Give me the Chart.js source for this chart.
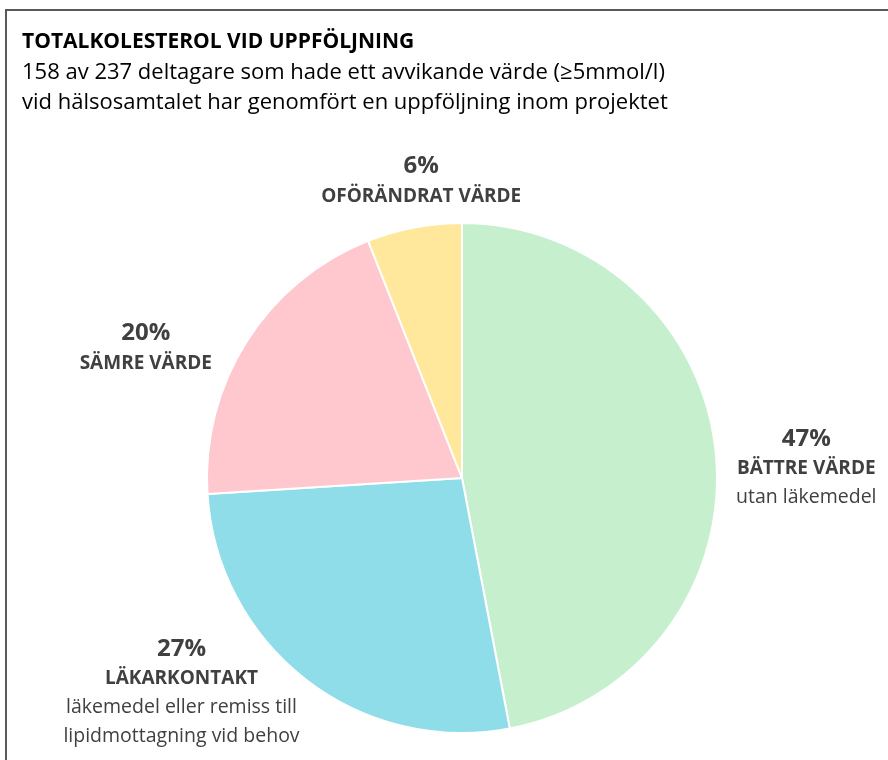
<!DOCTYPE html>
<html><head><meta charset="utf-8">
<script src="https://cdn.jsdelivr.net/npm/chart.js@4/dist/chart.umd.min.js"></script>
<style>
html,body{margin:0;padding:0;background:#fff;}
#wrap{position:relative;width:888px;height:760px;}
#frame{position:absolute;left:5px;top:9px;width:890px;height:800px;border-left:2px solid #595959;border-top:2px solid #595959;}
canvas{position:absolute;left:0;top:0;}
</style></head>
<body><div id="wrap"><div id="frame"></div><canvas id="c" width="888" height="760"></canvas></div>
<script>
const titleText = "TOTALKOLESTEROL VID UPPFÖLJNING";
const subtitleLines = ["158 av 237 deltagare som hade ett avvikande värde (≥5mmol/l)", "vid hälsosamtalet har genomfört en uppföljning inom projektet"];
const categories = ["BÄTTRE VÄRDE", "LÄKARKONTAKT", "SÄMRE VÄRDE", "OFÖRÄNDRAT VÄRDE"];
const values = [47, 27, 20, 6];
const notes = [["utan läkemedel"], ["läkemedel eller remiss till", "lipidmottagning vid behov"], [], []];
const colors = ["#C6EFCE", "#8FDDE9", "#FFC7CE", "#FFE89C"];
// label anchor offsets relative to pie center, in units of radius
const labelOffsets = [[1.35, -0.04], [-1.10, 0.84], [-1.24, -0.51], [-0.16, -1.165]];

const FONT = "'Open Sans', Lato, sans-serif";
const textPlugin = {
  id: 'texts',
  afterDraw(chart) {
    const ctx = chart.ctx;
    ctx.save();
    ctx.textBaseline = 'middle';
    ctx.fillStyle = '#000';
    ctx.textAlign = 'left';
    ctx.font = "bold 21px " + FONT;
    ctx.fillText(titleText, 22, 42);
    ctx.font = "22px " + FONT;
    subtitleLines.forEach((l, i) => ctx.fillText(l, 22, 73 + i * 30));
    const arc0 = chart.getDatasetMeta(0).data[0];
    const cx = arc0.x, cy = arc0.y, r = arc0.outerRadius;
    ctx.textAlign = 'center';
    ctx.fillStyle = '#404040';
    values.forEach((v, i) => {
      const x = cx + labelOffsets[i][0] * r;
      const lines = [{t: v + '%', f: "bold 24px " + FONT, h: 31}, {t: categories[i], f: "bold 19px " + FONT, h: 29}];
      notes[i].forEach(n => lines.push({t: n, f: "19.5px " + FONT, h: 29}));
      const total = lines.reduce((s, l) => s + l.h, 0);
      let y = cy + labelOffsets[i][1] * r - total / 2;
      lines.forEach(l => { ctx.font = l.f; ctx.fillText(l.t, x, y + l.h / 2); y += l.h; });
    });
    ctx.restore();
  }
};

new Chart(document.getElementById('c'), {
  type: 'pie',
  data: { labels: categories, datasets: [{ data: values, backgroundColor: colors, borderColor: '#fff', borderWidth: 2 }] },
  options: {
    responsive: false, animation: false,
    layout: { padding: { left: 206, right: 170, top: 222, bottom: 26 } },
    plugins: { legend: { display: false }, tooltip: { enabled: false }, title: { display: false } }
  },
  plugins: [textPlugin]
});
</script></body></html>
